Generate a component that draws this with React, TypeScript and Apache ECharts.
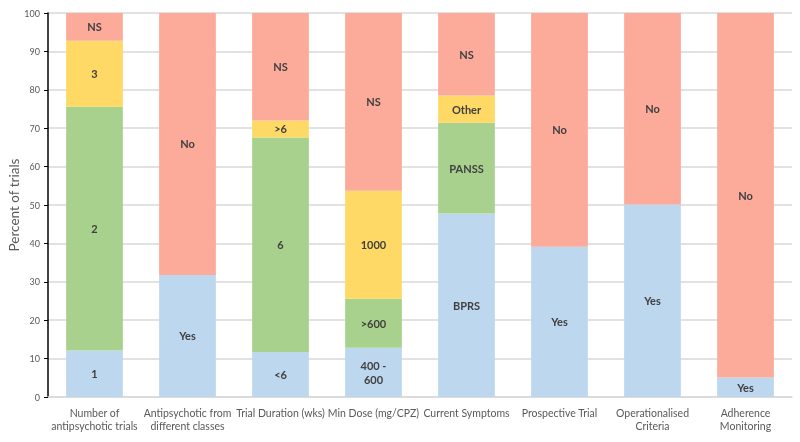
import React, { useEffect, useRef } from "react";
import * as echarts from "echarts";

const categories = [
  "Number of\nantipsychotic trials",
  "Antipsychotic from\ndifferent classes",
  "Trial Duration (wks)",
  "Min Dose (mg/CPZ)",
  "Current Symptoms",
  "Prospective Trial",
  "Operationalised\nCriteria",
  "Adherence\nMonitoring",
];

const bottomValues = [12.1, 31.8, 11.7, 12.8, 47.8, 39.1, 50.1, 5.1];
const bottomLabels = ["1", "Yes", "<6", "400 -\n600", "BPRS", "Yes", "Yes", "Yes"];

const secondValues = [63.5, null, 55.9, 12.8, 23.6, null, null, null];
const secondLabels = ["2", "", "6", ">600", "PANSS", "", "", ""];

const thirdValues = [17.2, null, 4.4, 28.1, 7.1, null, null, null];
const thirdLabels = ["3", "", ">6", "1000", "Other", "", "", ""];

const topValues = [7.2, 68.2, 28.0, 46.3, 21.5, 60.9, 49.9, 94.9];
const topLabels = ["NS", "No", "NS", "NS", "NS", "No", "No", "No"];

const yAxisTitle = "Percent of trials";
const yTicks = { min: 0, max: 100, interval: 10 };

const FONT = "Lato, 'Open Sans', sans-serif";

export default function App() {
  const ref = useRef<HTMLDivElement>(null);

  useEffect(() => {
    if (!ref.current) return;
    const chart = echarts.init(ref.current, undefined, { renderer: "svg" });

    const mk = (name: string, values: (number | null)[], labels: string[], color: string) => ({
      name,
      type: "bar",
      stack: "total",
      barCategoryGap: "39%",
      data: values.map((v) => (v === null ? "-" : v)),
      itemStyle: { color },
      label: {
        show: true,
        position: "inside",
        color: "#404040",
        fontWeight: "bold",
        fontSize: 11,
        fontFamily: FONT,
        lineHeight: 14,
        formatter: (p: any) => labels[p.dataIndex] || "",
      },
    });

    chart.setOption({
      animation: false,
      grid: {
        left: 48,
        right: 8,
        top: 13,
        bottom: 45,
        containLabel: false,
        outerBoundsMode: "none",
      },
      graphic: [
        {
          type: "text",
          x: 14,
          y: 205,
          rotation: Math.PI / 2,
          style: {
            text: yAxisTitle,
            fill: "#595959",
            fontSize: 13.5,
            fontFamily: FONT,
            textAlign: "center",
            textVerticalAlign: "middle",
          },
        },
      ],
      xAxis: {
        type: "category",
        data: categories,
        axisLine: { show: true, lineStyle: { color: "#D9D9D9", width: 1.5 } },
        axisTick: { show: false },
        axisLabel: {
          interval: 0,
          color: "#595959",
          fontSize: 10.5,
          lineHeight: 13,
          margin: 9,
          fontFamily: FONT,
        },
      },
      yAxis: {
        type: "value",
        min: yTicks.min,
        max: yTicks.max,
        interval: yTicks.interval,
        axisLine: { show: true, lineStyle: { color: "#000000", width: 1.5 } },
        axisTick: { show: true, inside: false, length: 4, lineStyle: { color: "#000000" } },
        axisLabel: { color: "#595959", fontSize: 9, margin: 8, fontFamily: FONT },
        splitLine: { show: true, lineStyle: { color: "#D9D9D9", width: 1.5 } },
      },
      series: [
        mk("Bottom", bottomValues, bottomLabels, "#BDD7EE"),
        mk("Second", secondValues, secondLabels, "#A9D18E"),
        mk("Third", thirdValues, thirdLabels, "#FFD966"),
        mk("Top", topValues, topLabels, "#FCAB9A"),
      ],
    });

    return () => chart.dispose();
  }, []);

  return (
    <div
      ref={ref}
      style={{ position: "fixed", left: 0, top: 0, width: 800, height: 442 }}
    />
  );
}
